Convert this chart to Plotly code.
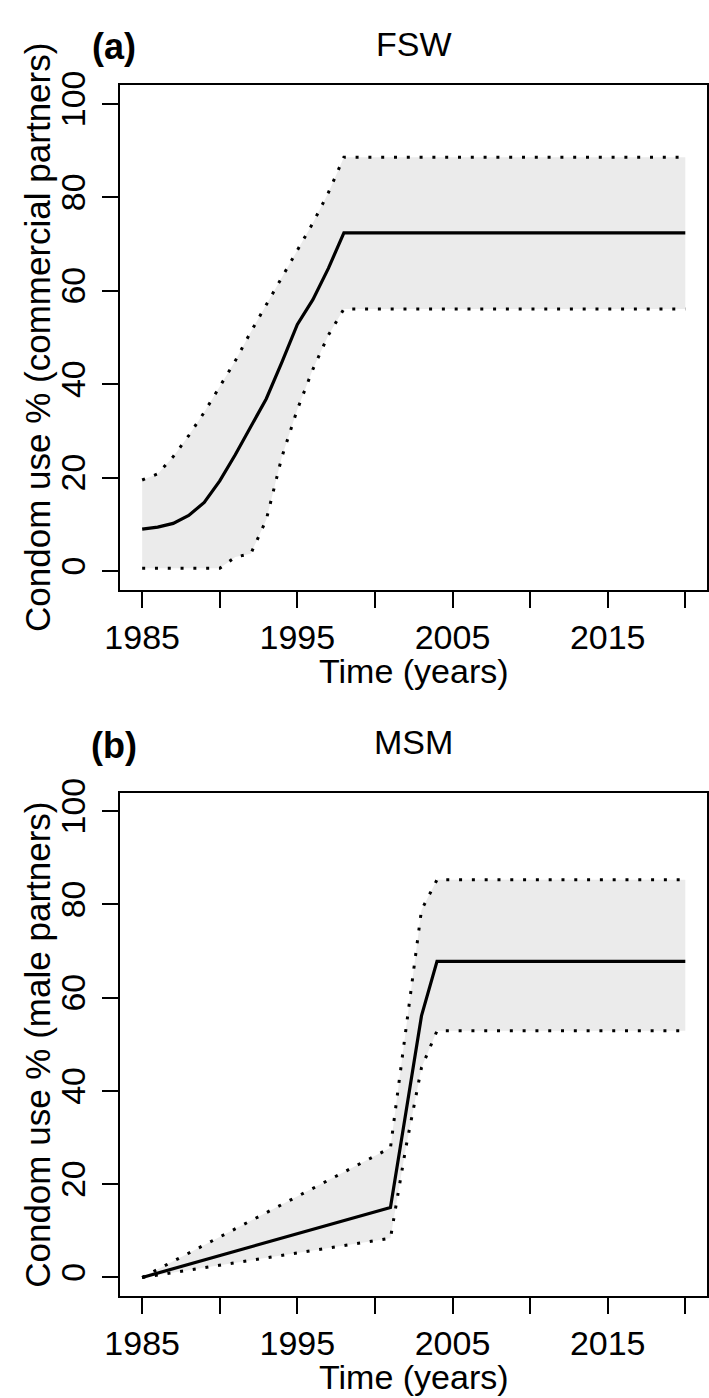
import plotly.graph_objects as go

# ---------------- data ----------------
years_a = [1985, 1986, 1987, 1988, 1989, 1990, 1991, 1992, 1993, 1994, 1995, 1996, 1997, 1998, 2020]
fsw_mid = [9.0, 9.4, 10.2, 11.9, 14.7, 19.3, 24.9, 30.9, 36.9, 44.7, 52.8, 58.1, 64.8, 72.4, 72.4]
fsw_upper = [19.5, 20.8, 24.5, 29.0, 34.0, 39.5, 45.0, 51.2, 57.0, 62.8, 68.5, 74.5, 81.0, 88.6, 88.6]
fsw_lower = [0.6, 0.6, 0.6, 0.6, 0.6, 0.6, 3.0, 3.7, 11.0, 24.4, 34.6, 43.2, 50.5, 56.1, 56.1]

years_b = [1985, 2001, 2002, 2003, 2004, 2020]
msm_mid = [0.0, 15.0, 35.5, 56.1, 67.8, 67.8]
msm_upper = [0.0, 27.8, 53.3, 78.8, 85.3, 85.3]
msm_lower = [0.0, 8.4, 28.0, 45.0, 52.9, 52.9]

x_ticks = [1985, 1990, 1995, 2000, 2005, 2010, 2015, 2020]
x_ticktext = ["1985", "", "1995", "", "2005", "", "2015", ""]
y_ticks = [0, 20, 40, 60, 80, 100]

panel_titles = ["FSW", "MSM"]
panel_tags = ["(a)", "(b)"]
y_titles = ["Condom use % (commercial partners)", "Condom use % (male partners)"]
x_title = "Time (years)"

# ---------------- layout helpers ----------------
W, H = 709, 1398
FONT = "Liberation Sans, Arial, Helvetica, sans-serif"
FS = 34      # horizontal text
FSR = 35     # rotated text

def px_x(px):
    return px / W

def px_y(py):
    return 1 - py / H

boxes = [(71, 581), (786, 1295)]  # top, bottom in pixels
x_left, x_right = 107, 708

fig = go.Figure()
shade = "#ebebeb"
dot = "3px,9.8px"

panels = [
    (years_a, fsw_mid, fsw_upper, fsw_lower),
    (years_b, msm_mid, msm_upper, msm_lower),
]

for i, (yrs, mid, up, lo) in enumerate(panels):
    xa = "x" if i == 0 else "x2"
    ya = "y" if i == 0 else "y2"
    fig.add_trace(go.Scatter(x=yrs, y=lo, mode="lines", line=dict(width=0, color=shade),
                             xaxis=xa, yaxis=ya, showlegend=False, hoverinfo="skip"))
    fig.add_trace(go.Scatter(x=yrs, y=up, mode="lines", line=dict(width=0, color=shade),
                             fill="tonexty", fillcolor=shade,
                             xaxis=xa, yaxis=ya, showlegend=False, hoverinfo="skip"))
    fig.add_trace(go.Scatter(x=yrs, y=up, mode="lines", line=dict(width=3, color="black", dash=dot),
                             xaxis=xa, yaxis=ya, showlegend=False))
    fig.add_trace(go.Scatter(x=yrs, y=lo, mode="lines", line=dict(width=3, color="black", dash=dot),
                             xaxis=xa, yaxis=ya, showlegend=False))
    fig.add_trace(go.Scatter(x=yrs, y=mid, mode="lines", line=dict(width=3.2, color="black"),
                             xaxis=xa, yaxis=ya, showlegend=False))

axis_common = dict(
    showline=True, linecolor="black", linewidth=2, mirror=True,
    ticks="outside", ticklen=16, tickwidth=2, tickcolor="black",
    showgrid=False, zeroline=False,
)

layout = dict(
    width=W, height=H,
    margin=dict(l=0, r=0, t=0, b=0),
    paper_bgcolor="white", plot_bgcolor="white",
    showlegend=False,
)

for i, (top, bot) in enumerate(boxes):
    xk = "xaxis" if i == 0 else "xaxis2"
    yk = "yaxis" if i == 0 else "yaxis2"
    ya = "y" if i == 0 else "y2"
    xa = "x" if i == 0 else "x2"
    layout[xk] = dict(axis_common, domain=[px_x(x_left), px_x(x_right)], range=[1983.6, 2021.4],
                      tickvals=x_ticks, ticktext=x_ticktext, anchor=ya, ticklabelstandoff=0,
                      tickfont=dict(family=FONT, size=FS, color="black"))
    layout[yk] = dict(axis_common, domain=[px_y(bot), px_y(top)], range=[-4, 104],
                      tickvals=y_ticks, tickangle=-90, anchor=xa, ticklabelstandoff=4,
                      tickfont=dict(family=FONT, size=FS, color="black"))

fig.update_layout(**layout)

ann = []
centers_y = [(71 + 581) / 2, (786 + 1295) / 2]
title_y = [29, 735]
tag_y = [32, 738]
xtitle_y = [663, 1377]
for i in range(2):
    ann.append(dict(x=px_x((x_left + x_right) / 2), y=px_y(title_y[i]), xref="paper", yref="paper",
                    text=panel_titles[i], showarrow=False, xanchor="center", yanchor="middle",
                    font=dict(family=FONT, size=FS, color="black")))
    ann.append(dict(x=px_x(100), y=px_y(tag_y[i]), xref="paper", yref="paper",
                    text="<b>" + panel_tags[i] + "</b>", showarrow=False, xanchor="center", yanchor="middle",
                    font=dict(family=FONT, size=FS + 2, color="black")))
    ann.append(dict(x=px_x((x_left + x_right) / 2), y=px_y(xtitle_y[i]), xref="paper", yref="paper",
                    text=x_title, showarrow=False, xanchor="center", yanchor="middle",
                    font=dict(family=FONT, size=FS, color="black")))
    ann.append(dict(x=px_x(22), y=px_y(centers_y[i]), xref="paper", yref="paper",
                    text=y_titles[i], showarrow=False, xanchor="center", yanchor="middle", textangle=-90,
                    font=dict(family=FONT, size=FSR, color="black")))

fig.update_layout(annotations=ann)
fig.write_html("out.html", config={"displayModeBar": False},
               post_script="document.body.style.margin='0';document.body.style.overflow='hidden';")
